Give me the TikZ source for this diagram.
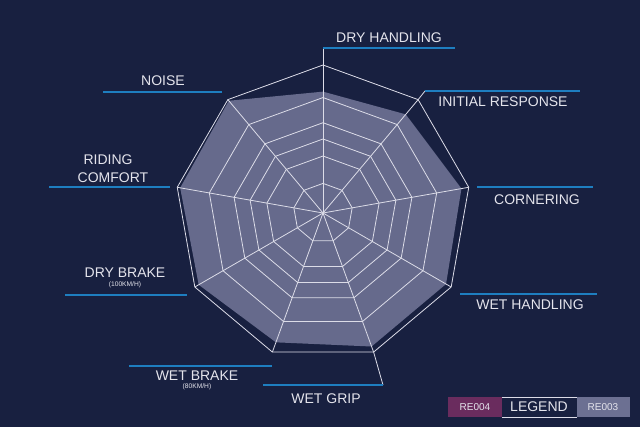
\documentclass[tikz,border=0pt]{standalone}
\usepackage{fontspec}
\setmainfont{Liberation Sans}
\usetikzlibrary{calc}
\definecolor{bg}{HTML}{182040}
\definecolor{fillc}{HTML}{666A8C}
\definecolor{gridc}{HTML}{DCDCE8}
\definecolor{bluel}{HTML}{1E7EC0}
\definecolor{txt}{HTML}{E4E4EC}
\definecolor{reA}{HTML}{6A2C5E}
\definecolor{reB}{HTML}{6C7092}
\tikzset{lbl/.style={text=txt,font=\fontsize{10.5}{12}\selectfont,inner sep=0pt,align=center},
 sub/.style={text=txt,font=\fontsize{5}{6}\selectfont,inner sep=0pt},
 lead/.style={draw=bluel,line width=1.2pt},
 gridl/.style={draw=gridc,line width=0.6pt}}
\begin{document}
\begin{tikzpicture}[x=0.75pt,y=-0.75pt]
\fill[bg] (0,0) rectangle (640,427);
\useasboundingbox (0,0) rectangle (640,427);
\coordinate (c) at (323,213);
% data polygon
\fill[fillc] \foreach \a/\v [count=\i] in {90/0.82,50/0.87,10/0.95,-30/0.96,-70/0.96,-110/0.93,-150/0.97,170/0.98,130/0.99}{
  \ifnum\i=1 ($(c)+(-\a:148*\v)$) \else -- ($(c)+(-\a:148*\v)$) \fi} -- cycle;
% rings
\foreach \f in {0.2,0.385,0.5,0.61,0.78,1}{
  \draw[gridl] ($(c)+(-90:148*\f)$) \foreach \a in {50,10,-30,-70,-110,-150,170,130}{ -- ($(c)+(-\a:148*\f)$)} -- cycle;}
\foreach \a in {90,50,10,-30,-70,-110,-150,170,130}{\draw[gridl] (c) -- ($(c)+(-\a:148)$);}
% leader lines
\coordinate (p1) at (323,48); \draw[gridl] ($(c)+(-90:148)$) -- (p1);
\coordinate (p2) at (425,91); \draw[gridl] ($(c)+(-50:148)$) -- (p2);
\coordinate (p5) at (383,385); \draw[gridl] ($(c)+(70:148)$) -- (p5);
\draw[lead] (p1) -- (455,48);
\draw[lead] (p2) -- (580,91);
\draw[lead] (477,187) -- (593,187);
\draw[lead] (460,294) -- (597,294);
\draw[lead] (p5) -- (263,385);
\draw[lead] (272,366) -- (129,366);
\draw[lead] (187,295) -- (65,295);
\draw[lead] (170,187) -- (49,187);
\draw[lead] (222,92) -- (103,92);
\node[lbl] (l1) at (389,38) {DRY HANDLING};
\node[lbl] (l2) at (503,102) {INITIAL RESPONSE};
\node[lbl] (l3) at (537,200) {CORNERING};
\node[lbl] (l4) at (530,305) {WET HANDLING};
\node[lbl] (l5) at (326,399) {WET GRIP};
\node[lbl] (l6) at (197,376) {WET BRAKE};
\node[sub] (s6) at (197,387) {(80KM/H)};
\node[lbl] (l7) at (125,273) {DRY BRAKE};
\node[sub] (s7) at (125,285) {(100KM/H)};
\node[lbl] (l8a) at (108,160) {RIDING};
\node[lbl] (l8b) at (113,178) {COMFORT};
\node[lbl] (l9) at (163,81) {NOISE};
% legend
\fill[reA] (448,397) rectangle (502,417);
\fill[reB] (577,397) rectangle (630,417);
\draw[gridc,line width=0.6pt] (502,397) -- (577,397) (502,417) -- (577,417);
\node[text=txt,font=\fontsize{7.5}{9}\selectfont,inner sep=0pt] (ra) at (475,407) {RE004};
\node[text=txt,font=\fontsize{10.5}{12}\selectfont,inner sep=0pt] (lg) at (539,407) {LEGEND};
\node[text=txt,font=\fontsize{7.5}{9}\selectfont,inner sep=0pt] (rb) at (603,407) {RE003};
\end{tikzpicture}
\end{document}
